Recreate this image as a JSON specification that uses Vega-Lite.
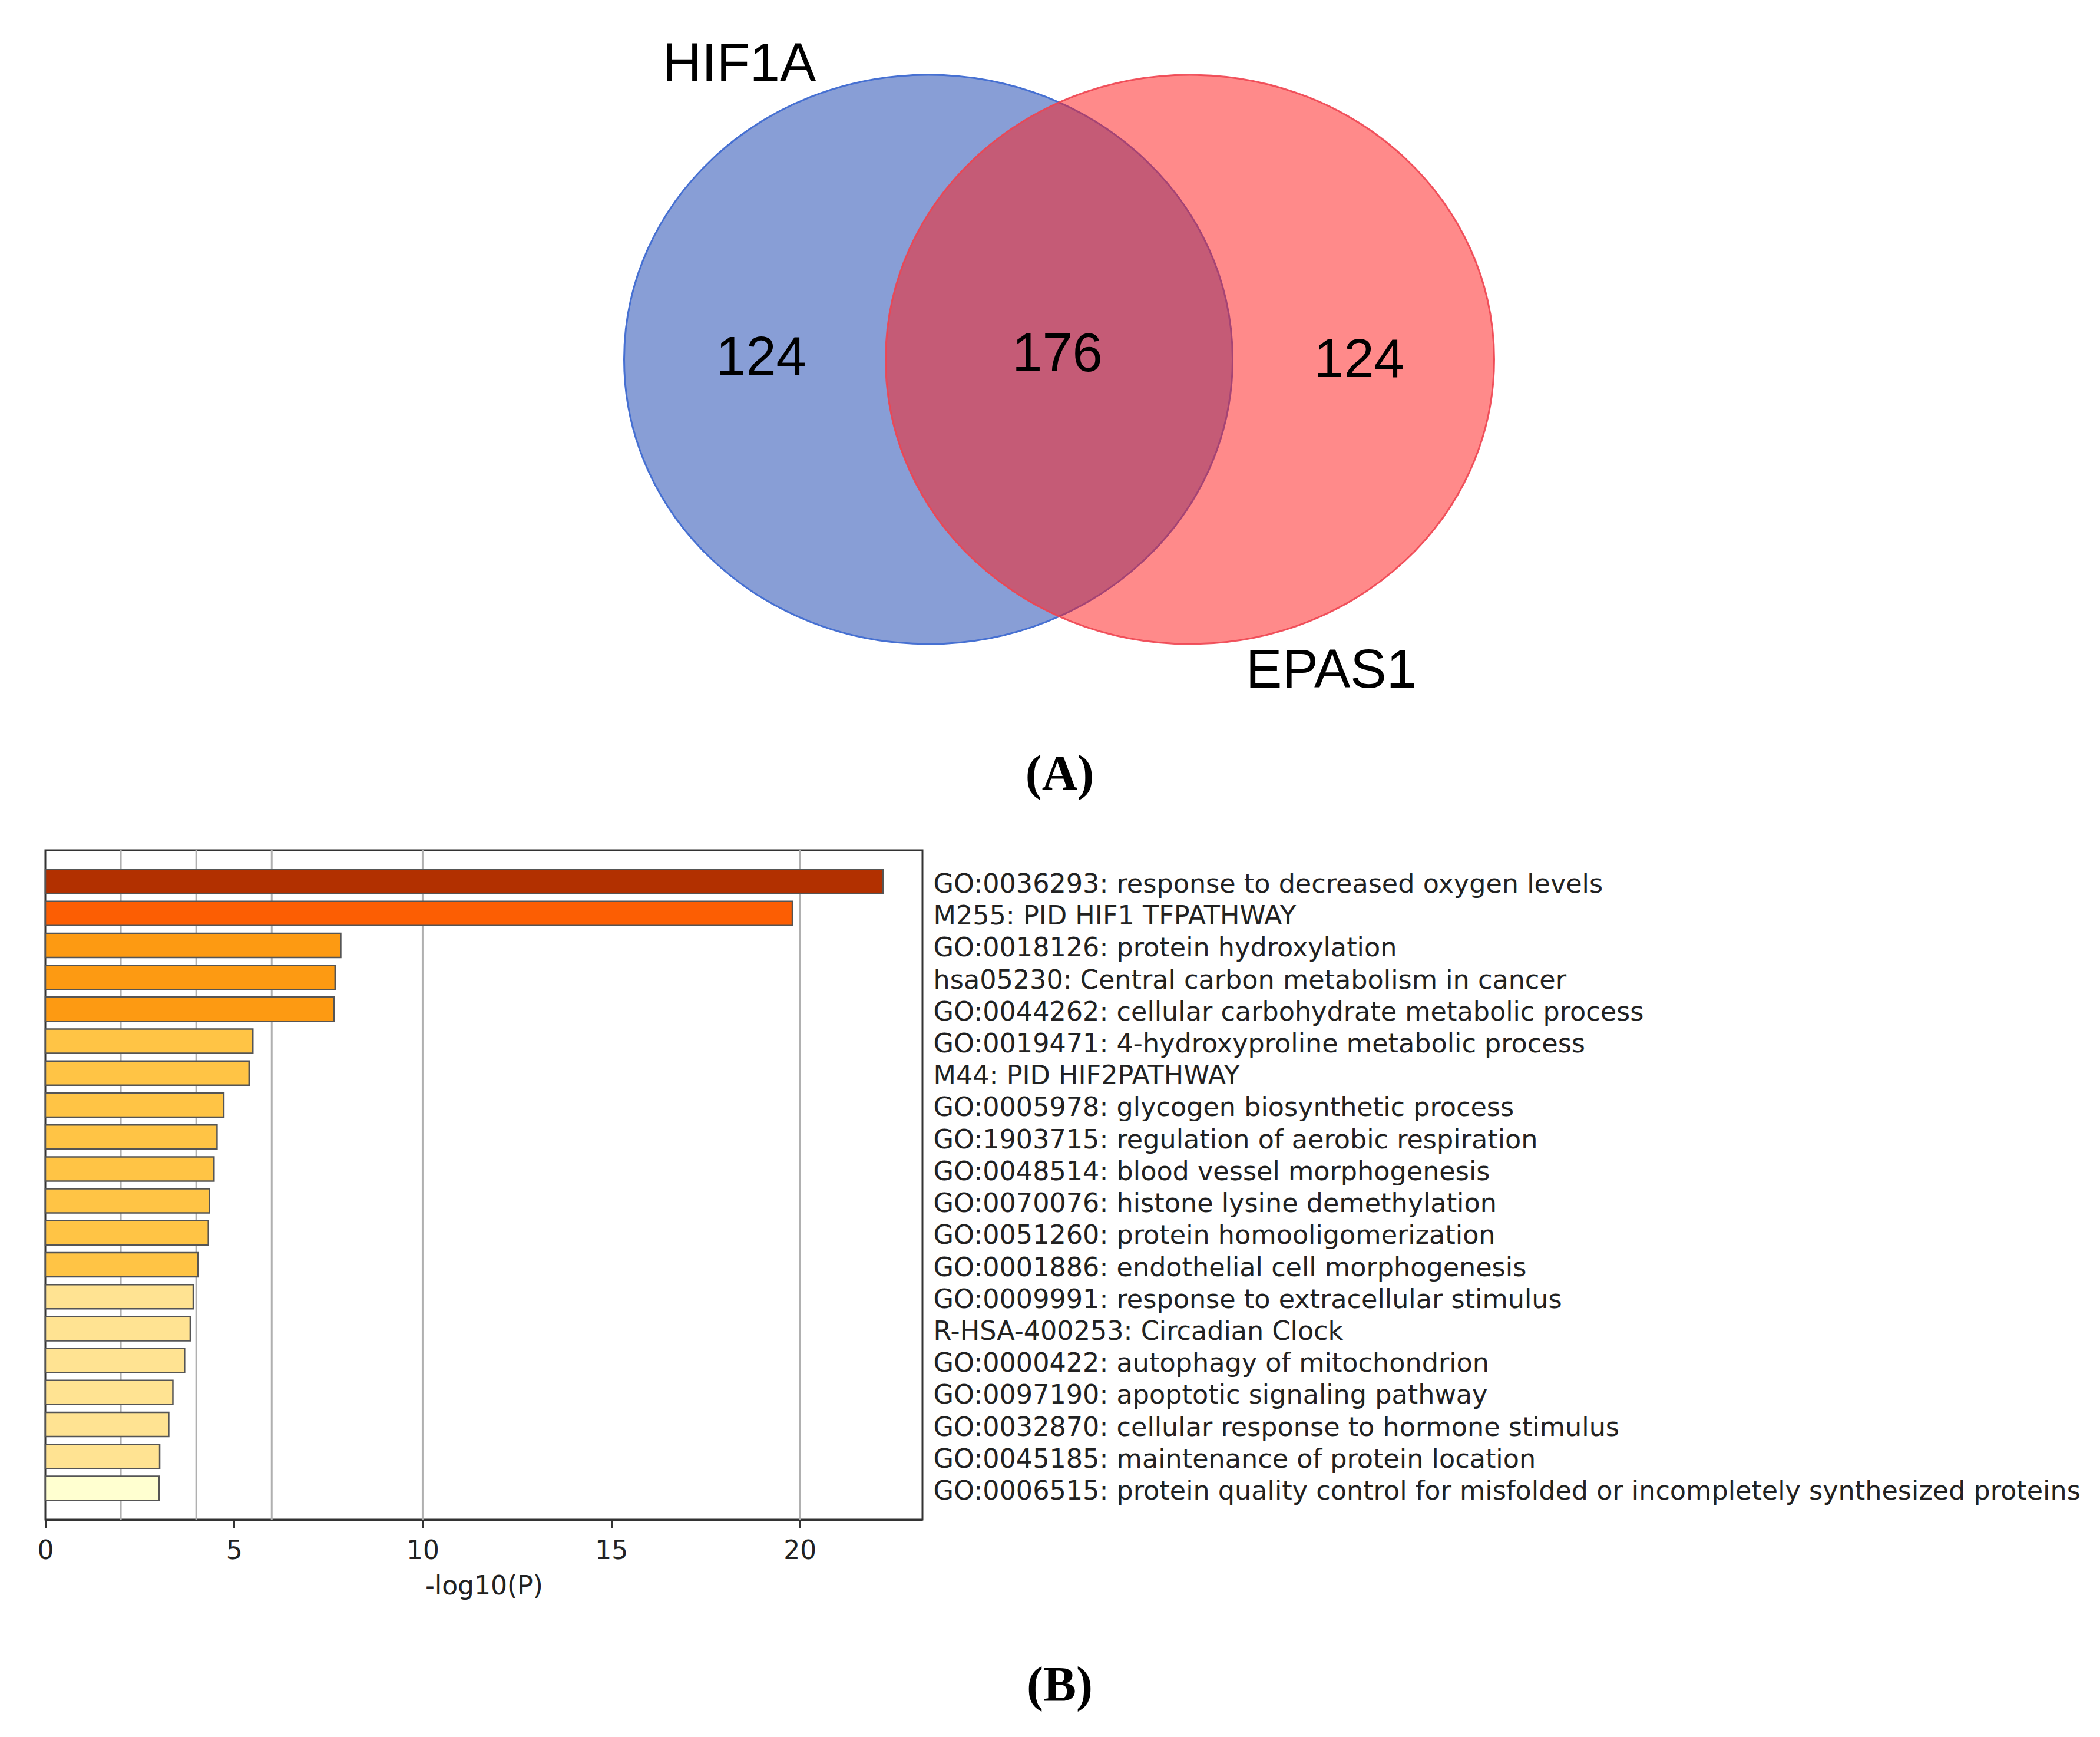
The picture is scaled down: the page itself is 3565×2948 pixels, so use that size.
{
  "$schema": "https://vega.github.io/schema/vega-lite/v6.json",
  "background": "white",
  "padding": {"left": 61, "top": 0, "right": 0, "bottom": 0},
  "bounds": "flush",
  "spacing": 43,
  "config": {"view": {"stroke": null}},
  "vconcat": [
    {
      "width": 3490,
      "height": 1400,
      "layer": [
        {
          "data": {"values": [{"set": "HIF1A", "x": -2.22, "y": 0}]},
          "mark": {
            "type": "point",
            "shape": "M -1 0 C -1 -0.5165 -0.5523 -0.9351 0 -0.9351 C 0.5523 -0.9351 1 -0.5165 1 0 C 1 0.5165 0.5523 0.9351 0 0.9351 C -0.5523 0.9351 -1 0.5165 -1 0 Z",
            "size": 1067089,
            "filled": true,
            "fill": "#889ED6",
            "fillOpacity": 1,
            "opacity": 1,
            "stroke": "#4670D2",
            "strokeWidth": 3
          },
          "encoding": {
            "x": {"field": "x", "type": "quantitative", "scale": {"domain": [-17.21, 17.69], "nice": false, "zero": false}, "axis": null},
            "y": {"field": "y", "type": "quantitative", "scale": {"domain": [-7.9, 6.1], "nice": false, "zero": false}, "axis": null}
          }
        },
        {
          "data": {"values": [{"set": "EPAS1", "x": 2.22, "y": 0}]},
          "mark": {
            "type": "point",
            "shape": "M -1 0 C -1 -0.5165 -0.5523 -0.9351 0 -0.9351 C 0.5523 -0.9351 1 -0.5165 1 0 C 1 0.5165 0.5523 0.9351 0 0.9351 C -0.5523 0.9351 -1 0.5165 -1 0 Z",
            "size": 1067089,
            "filled": true,
            "fill": "#FF1C1C",
            "fillOpacity": 0.515,
            "opacity": 1,
            "stroke": "#EE4450",
            "strokeOpacity": 0.9,
            "strokeWidth": 3
          },
          "encoding": {
            "x": {"field": "x", "type": "quantitative"},
            "y": {"field": "y", "type": "quantitative"}
          }
        },
        {
          "data": {"values": [
            {"label": "124", "x": -5.06, "y": -0.26},
            {"label": "176", "x": -0.03, "y": -0.2},
            {"label": "124", "x": 5.09, "y": -0.3},
            {"label": "HIF1A", "x": -5.43, "y": 4.72},
            {"label": "EPAS1", "x": 4.62, "y": -5.57}
          ]},
          "mark": {"type": "text", "font": "Liberation Sans", "fontSize": 92, "align": "center", "baseline": "alphabetic", "color": "#000000"},
          "encoding": {
            "x": {"field": "x", "type": "quantitative"},
            "y": {"field": "y", "type": "quantitative"},
            "text": {"field": "label", "type": "nominal"}
          }
        },
        {
          "data": {"values": [{"label": "(A)", "x": 0.01, "y": -7.3}]},
          "mark": {"type": "text", "font": "Liberation Serif", "fontWeight": "bold", "fontSize": 84, "align": "center", "baseline": "alphabetic", "color": "#000000"},
          "encoding": {
            "x": {"field": "x", "type": "quantitative"},
            "y": {"field": "y", "type": "quantitative"},
            "text": {"field": "label", "type": "nominal"}
          }
        }
      ]
    },
    {
      "width": 1489,
      "height": 1136,
      "view": {"stroke": "#333333", "strokeWidth": 3},
      "data": {"values": [
        {"term": "GO:0036293: response to decreased oxygen levels", "logp": 22.2, "level": 1},
        {"term": "M255: PID HIF1 TFPATHWAY", "logp": 19.8, "level": 2},
        {"term": "GO:0018126: protein hydroxylation", "logp": 7.83, "level": 3},
        {"term": "hsa05230: Central carbon metabolism in cancer", "logp": 7.68, "level": 3},
        {"term": "GO:0044262: cellular carbohydrate metabolic process", "logp": 7.65, "level": 3},
        {"term": "GO:0019471: 4-hydroxyproline metabolic process", "logp": 5.5, "level": 4},
        {"term": "M44: PID HIF2PATHWAY", "logp": 5.4, "level": 4},
        {"term": "GO:0005978: glycogen biosynthetic process", "logp": 4.73, "level": 4},
        {"term": "GO:1903715: regulation of aerobic respiration", "logp": 4.55, "level": 4},
        {"term": "GO:0048514: blood vessel morphogenesis", "logp": 4.47, "level": 4},
        {"term": "GO:0070076: histone lysine demethylation", "logp": 4.35, "level": 4},
        {"term": "GO:0051260: protein homooligomerization", "logp": 4.32, "level": 4},
        {"term": "GO:0001886: endothelial cell morphogenesis", "logp": 4.04, "level": 4},
        {"term": "GO:0009991: response to extracellular stimulus", "logp": 3.92, "level": 5},
        {"term": "R-HSA-400253: Circadian Clock", "logp": 3.84, "level": 5},
        {"term": "GO:0000422: autophagy of mitochondrion", "logp": 3.69, "level": 5},
        {"term": "GO:0097190: apoptotic signaling pathway", "logp": 3.38, "level": 5},
        {"term": "GO:0032870: cellular response to hormone stimulus", "logp": 3.27, "level": 5},
        {"term": "GO:0045185: maintenance of protein location", "logp": 3.03, "level": 5},
        {"term": "GO:0006515: protein quality control for misfolded or incompletely synthesized proteins", "logp": 3.01, "level": 6}
      ]},
      "encoding": {
        "x": {
          "field": "logp",
          "type": "quantitative",
          "scale": {"domain": [0, 23.25], "nice": false, "zero": true},
          "axis": {
            "values": [0, 5, 10, 15, 20],
            "grid": false,
            "tickSize": 14,
            "tickWidth": 3,
            "tickColor": "#333333",
            "domainColor": "#333333",
            "domainWidth": 3,
            "labelFlush": false,
            "labelFont": "DejaVu Sans",
            "labelFontSize": 44,
            "labelColor": "#222222",
            "labelPadding": 17,
            "title": "-log10(P)",
            "titleFont": "DejaVu Sans",
            "titleFontSize": 44,
            "titleFontWeight": "normal",
            "titleColor": "#222222",
            "titlePadding": 16
          }
        }
      },
      "layer": [
        {
          "data": {"values": [{"logp": 2}, {"logp": 4}, {"logp": 6}, {"logp": 10}, {"logp": 20}]},
          "mark": {"type": "rule", "color": "#b0b0b0", "strokeWidth": 3},
          "encoding": {}
        },
        {
          "mark": {"type": "bar", "stroke": "#555555", "strokeWidth": 2.5},
          "encoding": {
            "y": {
              "field": "term",
              "type": "nominal",
              "sort": null,
              "scale": {"paddingInner": 0.244, "paddingOuter": 0.6},
              "axis": {
                "orient": "right",
                "ticks": false,
                "domain": false,
                "labelPadding": 18,
                "labelOffset": 6,
                "labelAlign": "left",
                "labelFont": "DejaVu Sans",
                "labelFontSize": 44.5,
                "labelColor": "#222222",
                "labelLimit": 3000,
                "title": null
              }
            },
            "fill": {
              "field": "level",
              "type": "ordinal",
              "scale": {"domain": [1, 2, 3, 4, 5, 6], "range": ["#B23000", "#FC5E03", "#FD9A12", "#FFC445", "#FFE392", "#FFFFD0"]},
              "legend": null
            }
          }
        }
      ]
    },
    {
      "width": 3490,
      "height": 326,
      "data": {"values": [{"label": "(B)", "x": 0.01, "y": -2.65}]},
      "mark": {"type": "text", "font": "Liberation Serif", "fontWeight": "bold", "fontSize": 84, "align": "center", "baseline": "alphabetic", "color": "#000000"},
      "encoding": {
        "x": {"field": "x", "type": "quantitative", "scale": {"domain": [-17.21, 17.69], "nice": false, "zero": false}, "axis": null},
        "y": {"field": "y", "type": "quantitative", "scale": {"domain": [-3.26, 0], "nice": false, "zero": false}, "axis": null},
        "text": {"field": "label", "type": "nominal"}
      }
    }
  ]
}
